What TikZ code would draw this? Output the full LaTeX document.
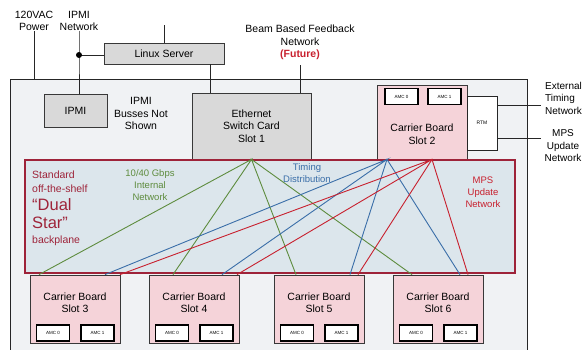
\documentclass[tikz,border=0pt]{standalone}
\usepackage{fontspec}
\setmainfont{Liberation Sans}
\usetikzlibrary{positioning}

\definecolor{casegray}{HTML}{F0F2F4}
\definecolor{cardgray}{HTML}{D9D9D9}
\definecolor{boardpink}{HTML}{F5D3D9}
\definecolor{planeblue}{HTML}{DCE6EC}
\definecolor{planered}{HTML}{9E2339}
\definecolor{lanegreen}{HTML}{5E8C3E}
\definecolor{timeblue}{HTML}{3A6EA8}
\definecolor{mpsred}{HTML}{C8202E}

\tikzstyle{txt}=[inner sep=0pt, align=center, font=\fontsize{10.5}{12.5}\selectfont]
\tikzstyle{card}=[txt, rectangle, draw=black!78, fill=cardgray, line width=0.8pt]
\tikzstyle{board}=[card, fill=boardpink]
\tikzstyle{amc}=[rectangle, draw=black, line width=1.3pt, fill=white, inner sep=0pt, minimum width=33pt, minimum height=16pt, font=\fontsize{4.5}{5}\selectfont]
\tikzstyle{wire}=[draw=black!85, line width=0.8pt]
\tikzstyle{gbus}=[draw=lanegreen, line width=0.9pt]
\tikzstyle{tbus}=[draw=timeblue, line width=0.9pt]
\tikzstyle{mbus}=[draw=mpsred, line width=0.9pt]
\newcommand{\amcbox}{\node[amc]}

\begin{document}
\begin{tikzpicture}[x=1pt,y=-1pt]
\useasboundingbox (0,0) rectangle (584,349);
% crate
\node[wire, fill=casegray, minimum width=517pt, minimum height=280pt, inner sep=0pt] (chassis) at (268.5,219) {};

% outside world
\node[txt] (power) at (34,21) {120VAC\\Power};
\node[txt] (ipminet) at (79,21) {IPMI\\Network};
\node[txt] (bbf) at (300,42.5) {Beam Based Feedback\\Network\\{\color{mpsred}\bfseries(Future)}};
\node[txt, align=left, anchor=west, font=\fontsize{10}{12.5}\selectfont] (extlbl) at (545,98) {External\\Timing\\Network};
\node[txt, font=\fontsize{10}{12.5}\selectfont] (mpslbl) at (563,146) {MPS\\Update\\Network};
\coordinate (uplink) at (164,25);
\coordinate (ipmitap) at (79,55);
\coordinate (extout) at (541,105);
\coordinate (mpsout) at (541,138);

% cards
\node[card, minimum width=120pt, minimum height=21pt] (linux) at (164,53.5) {Linux Server};
\node[card, minimum width=63pt, minimum height=33pt] (ipmi) at (75.5,110.5) {IPMI};
\node[txt] (busses) at (141,113.5) {IPMI\\Busses Not\\Shown};
\node[card, minimum width=119pt, minimum height=66pt] (eth) at (251.5,126) {Ethernet\\Switch Card\\Slot 1};
\node[board, minimum width=90pt, minimum height=74pt] (slot2) at (422,122) {};
\node[txt] (slot2txt) at (422,134) {Carrier Board\\Slot 2};
\amcbox (s2a0) at (401.5,96.5) {AMC 0};
\amcbox (s2a1) at (444.5,96.5) {AMC 1};
\node[wire, fill=white, inner sep=0pt, minimum width=30pt, minimum height=54pt, font=\fontsize{5}{6}\selectfont] (rtm) at (482,123) {RTM};

% backplane
\node[draw=planered, fill=planeblue, line width=1.5pt, minimum width=490pt, minimum height=113pt, inner sep=0pt] (plane) at (270,216.5) {};
\node[txt, text=planered, anchor=base west] (std) at (32,178) {Standard};
\node[txt, text=planered, anchor=base west] (ots) at (32,192) {off-the-shelf};
\node[txt, text=planered, anchor=base west, font=\fontsize{16.5}{18}\selectfont] (dual) at (32,210) {“Dual};
\node[txt, text=planered, anchor=base west, font=\fontsize{16.5}{18}\selectfont] (star) at (32,228) {Star”};
\node[txt, text=planered, anchor=base west] (bp) at (32,243) {backplane};
\node[txt, text=lanegreen, font=\fontsize{9.5}{12}\selectfont] (lanelbl) at (150,185) {10/40 Gbps\\Internal\\Network};
\node[txt, text=timeblue, font=\fontsize{9.5}{12}\selectfont] (timelbl) at (307,173) {Timing\\Distribution};
\node[txt, text=mpsred, font=\fontsize{9.5}{12}\selectfont] (mpsnet) at (483,192) {MPS\\Update\\Network};

% carrier boards
\node[board, minimum width=90pt, minimum height=68pt] (slot3) at (75,309) {};
\node[txt] (slot3txt) at (75,302.5) {Carrier Board\\Slot 3};
\amcbox (s3a0) at (53,333) {AMC 0};
\amcbox (s3a1) at (97.5,333) {AMC 1};
\node[board, minimum width=90pt, minimum height=68pt] (slot4) at (194,309) {};
\node[txt] (slot4txt) at (194,302.5) {Carrier Board\\Slot 4};
\amcbox (s4a0) at (172,333) {AMC 0};
\amcbox (s4a1) at (216.5,333) {AMC 1};
\node[board, minimum width=90pt, minimum height=68pt] (slot5) at (319,309) {};
\node[txt] (slot5txt) at (319,302.5) {Carrier Board\\Slot 5};
\amcbox (s5a0) at (297,333) {AMC 0};
\amcbox (s5a1) at (341.5,333) {AMC 1};
\node[board, minimum width=90pt, minimum height=68pt] (slot6) at (438,309) {};
\node[txt] (slot6txt) at (438,302.5) {Carrier Board\\Slot 6};
\amcbox (s6a0) at (416,333) {AMC 0};
\amcbox (s6a1) at (460.5,333) {AMC 1};

% wiring
\draw[wire] (power.south) -- (power.south |- chassis.north);
\draw[wire] (ipminet.south) -- (ipmitap) -- (ipmitap |- ipmi.north);
\draw[wire] (ipmitap) -- (ipmitap -| linux.west);
\fill (ipmitap) circle (3pt);
\draw[wire] (uplink) -- (linux.north);
\draw[wire] ([xshift=46pt]linux.south) -- ([xshift=46pt]linux.south |- eth.north);
\draw[wire] ([yshift=-5pt]bbf.south) -- (bbf.south |- eth.north);
\draw[wire] (rtm.east |- extout) -- (extout);
\draw[wire] (rtm.east |- mpsout) -- (mpsout);

% dual star
\draw[gbus] ([xshift=-36pt]slot3.north) -- (eth.south) -- ([xshift=-21pt]slot4.north);
\draw[gbus] ([xshift=-23pt]slot5.north) -- (eth.south) -- ([xshift=-26pt]slot6.north);
\draw[tbus] ([xshift=30pt]slot3.north) -- ([xshift=-35pt]slot2.south) -- ([xshift=28pt]slot4.north);
\draw[tbus] ([xshift=31pt]slot5.north) -- ([xshift=-35pt]slot2.south) -- ([xshift=22pt]slot6.north);
\draw[mbus] ([xshift=45pt]slot3.north) -- ([xshift=10pt]slot2.south) -- ([xshift=43pt]slot4.north);
\draw[mbus] ([xshift=39pt]slot5.north) -- ([xshift=10pt]slot2.south) -- ([xshift=30pt]slot6.north);
\end{tikzpicture}
\end{document}
